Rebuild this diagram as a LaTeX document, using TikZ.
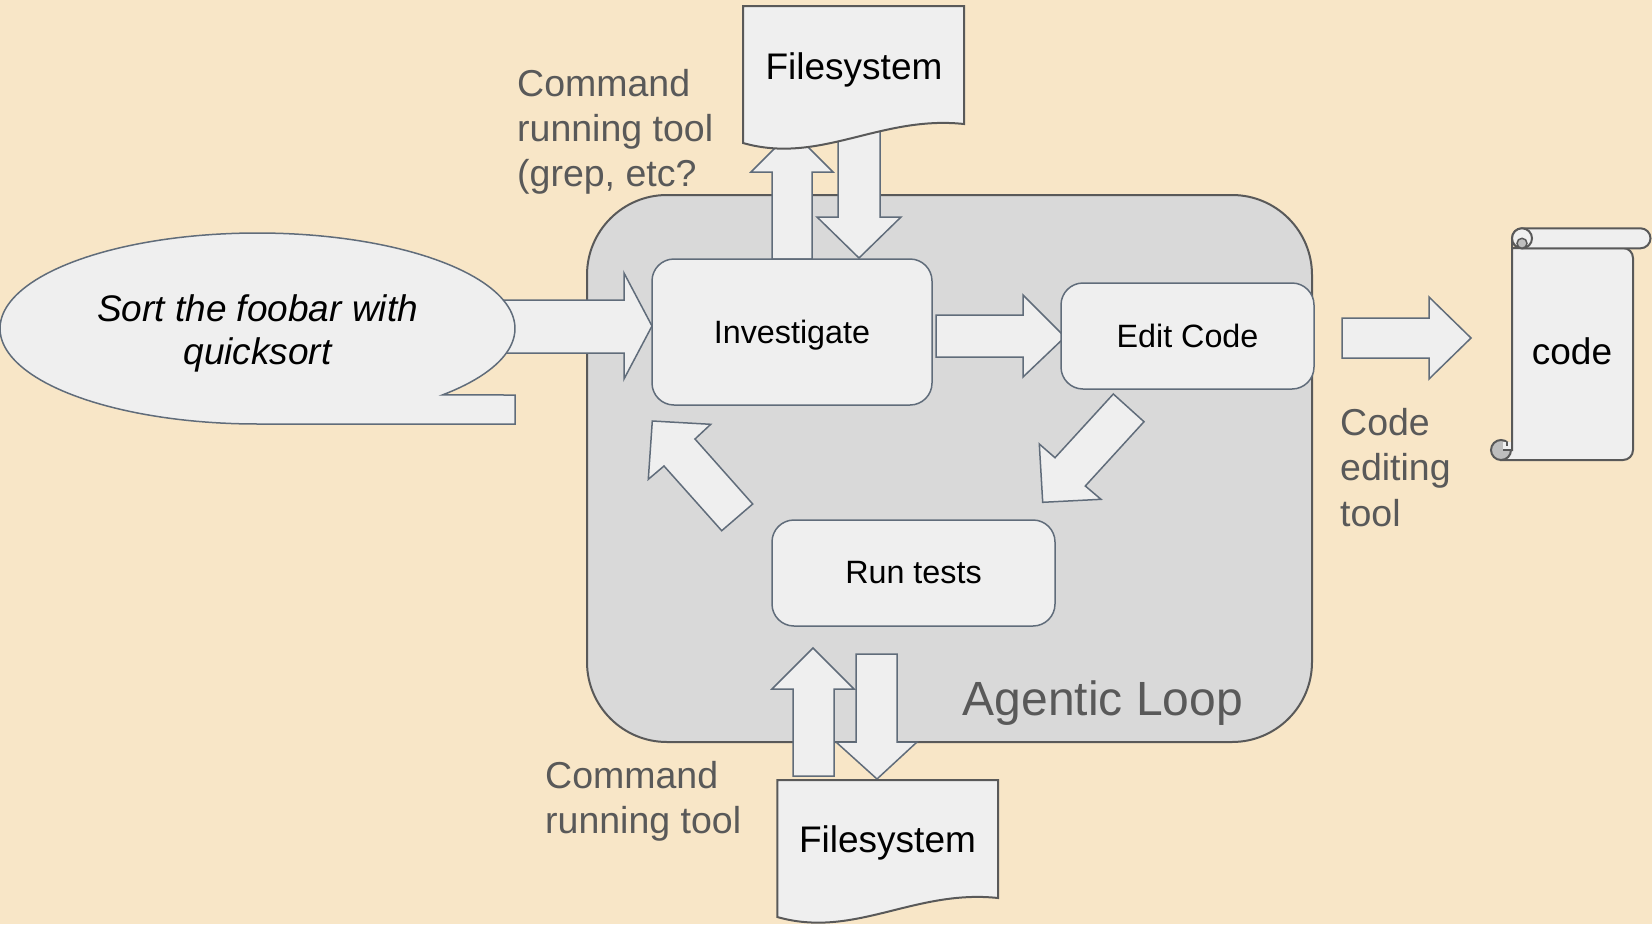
\documentclass[tikz,border=0pt]{standalone}
\usepackage{fontspec}
\setmainfont{Liberation Sans}
\definecolor{bg}{RGB}{248,230,199}
\definecolor{loopfill}{RGB}{217,217,217}
\definecolor{darkline}{RGB}{89,89,89}
\definecolor{shapefill}{RGB}{239,239,239}
\definecolor{slate}{RGB}{96,108,122}
\definecolor{curl}{RGB}{190,190,190}
\definecolor{labelgray}{RGB}{89,89,89}

\begin{document}
\begin{tikzpicture}[x=1pt,y=-1pt,
  box/.style={draw=slate, line width=1.5pt, fill=shapefill, rounded corners=22pt,
    inner sep=0pt, font=\fontsize{32.3}{38}\selectfont},
  blockarrow/.style={draw=slate, line width=1.5pt, fill=shapefill, line join=miter},
  docshape/.style={draw=darkline, line width=2pt, fill=shapefill},
  scrollline/.style={draw=darkline, line width=2pt, fill=shapefill},
  bigtext/.style={font=\fontsize{37}{44}\selectfont, inner sep=0pt},
  graylabel/.style={font=\fontsize{37.5}{45.3}\selectfont, text=labelgray, align=left,
    anchor=north west, inner sep=0pt},
]
% canvas
\fill[bg] (0,0) rectangle (1652,924);
\useasboundingbox (0,0) rectangle (1652,924);

% agentic loop container
\node[draw=darkline, line width=2pt, fill=loopfill, rounded corners=80pt,
  minimum width=725pt, minimum height=547pt, inner sep=0pt] (loop) at (949.5,468.5) {};

% block arrows
\path[blockarrow] (480,300) -- (624,300) -- (624,273) -- (652,326) -- (624,379) -- (624,353) -- (480,353) -- cycle;
\path[blockarrow] (936,315) -- (1023,315) -- (1023,295) -- (1065,337) -- (1023,377) -- (1023,357) -- (936,357) -- cycle;
\path[blockarrow] (1342,318) -- (1429,318) -- (1429,297) -- (1471,338) -- (1429,379) -- (1429,358) -- (1342,358) -- cycle;
\path[blockarrow] (1113.3,394) -- (1144,421.7) -- (1085.3,486) -- (1101,499.3) -- (1042.7,502.3) -- (1039.3,444) -- (1055,457.7) -- cycle;
\path[blockarrow] (652.3,421) -- (710.7,424.3) -- (695,439) -- (752.7,504) -- (721.7,530.7) -- (664,466) -- (648.3,479.3) -- cycle;
% to and from the upper filesystem
\path[blockarrow] (772,259) -- (772,172) -- (751,172) -- (792,131) -- (833,172) -- (812,172) -- (812,259) -- cycle;
\path[blockarrow] (838,110) -- (880,110) -- (880,217) -- (901,217) -- (859,258) -- (817,217) -- (838,217) -- cycle;
% to and from the lower filesystem
\path[blockarrow] (793,776) -- (793,689) -- (772,689) -- (813,648) -- (854,689) -- (834,689) -- (834,776) -- cycle;
\path[blockarrow] (856,654) -- (897,654) -- (897,742) -- (917,742) -- (877,779) -- (836,742) -- (856,742) -- cycle;

% speech bubble
\path[draw=slate, line width=1.5pt, fill=shapefill]
  plot[domain=44.1:-270, samples=160] ({257.5+257.5*cos(\x)},{328.5+95.5*sin(\x)})
  -- (515,424) -- (515,395) -- cycle;
\node[bigtext, align=center, font=\fontsize{37}{43}\selectfont\itshape] (request) at (257.5,333)
  {Sort the foobar with\\quicksort};

% process steps
\node[box, minimum width=280pt, minimum height=146pt, text depth=0pt] (investigate) at (792,332) {Investigate};
\node[box, minimum width=253pt, minimum height=106pt] (edit) at (1187.5,336) {Edit Code};
\node[box, minimum width=283pt, minimum height=106pt] (run) at (913.5,573) {Run tests};

% filesystem documents
\path[docshape] (743,6) -- (964,6) -- (964,124) .. controls (880,115) and (820,165) .. (743,143) -- cycle;
\node[bigtext, anchor=base] (fstop) at (854,79) {Filesystem};
\path[docshape] (777.3,780) -- (998,780) -- (998,898) .. controls (914.3,889) and (854.3,939) .. (777.3,917) -- cycle;
\node[bigtext, anchor=base] (fsbottom) at (887.5,852.7) {Filesystem};

% code scroll
\path[scrollline] (1512,238) -- (1512,450) -- (1501,450) -- (1501,460)
  {[rounded corners=10pt] -- (1633,460) -- (1633,248)} -- (1512,248) -- cycle;
\path[scrollline, fill=curl] (1501,450) circle (10);
\fill[shapefill] (1503,442) rectangle (1511,450);
\draw[darkline, line width=1.5pt] (1512,440) -- (1512,450) -- (1503,450);
\draw[darkline, line width=1.2pt] (1507,442) -- (1507,446);
\path[scrollline, rounded corners=10pt] (1512,228.3) rectangle (1650.5,248.3);
\path[scrollline] (1522,238.3) circle (10);
\path[scrollline, fill=curl, line width=1.5pt] (1522,243.3) circle (5);
\node[bigtext] (code) at (1572,351) {code};

% labels
\node[graylabel] (cmdtop) at (517,69) {Command\\running tool\\(grep, etc?};
\node[graylabel, font=\fontsize{37.5}{45.5}\selectfont] (edittool) at (1340,408) {Code\\editing\\tool};
\node[graylabel] (cmdbottom) at (545,761) {Command\\running tool};
\node[anchor=base, font=\fontsize{48}{56}\selectfont, text=labelgray, inner sep=0pt] (looplabel)
  at (1103,715.5) {Agentic Loop};
\end{tikzpicture}
\end{document}
